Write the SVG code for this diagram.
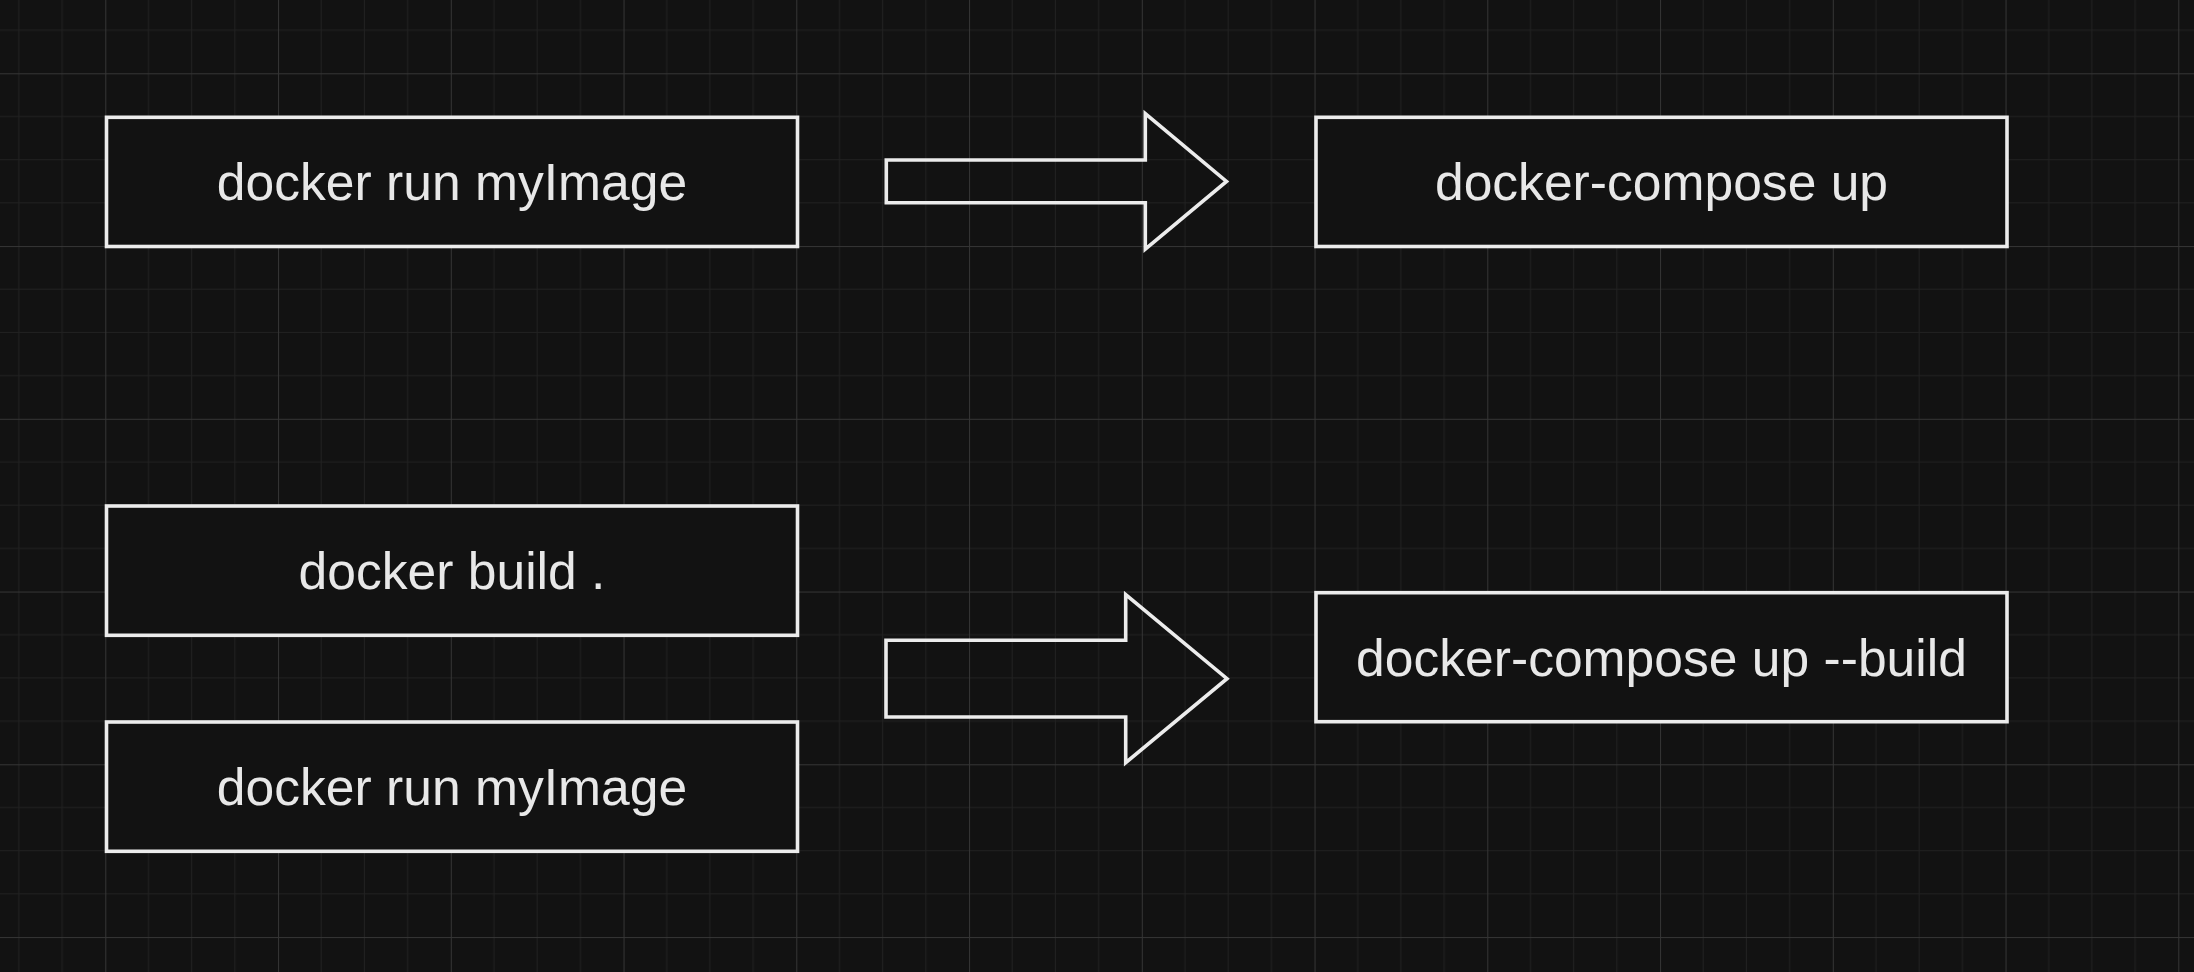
<svg xmlns="http://www.w3.org/2000/svg" width="2194" height="972" viewBox="0 0 2194 972">
  <defs>
    <pattern id="grid" patternUnits="userSpaceOnUse" x="105.3" y="73.3" width="172.75" height="172.75">
      <path d="M43.19 0V172.75M86.375 0V172.75M129.56 0V172.75M0 43.19H172.75M0 86.375H172.75M0 129.56H172.75" stroke="#212121" stroke-width="1" fill="none"/>
      <path d="M0.5 0V172.75M0 0.5H172.75" stroke="#353535" stroke-width="1" fill="none"/>
    </pattern>
  </defs>
  <style>
    .box { fill: #121212; stroke: #ececec; stroke-width: 3.6; }
    .arrow { fill: none; stroke: #ececec; stroke-width: 3.6; stroke-linejoin: miter; stroke-miterlimit: 10; }
    .label { font-family: "Liberation Sans", Arial, sans-serif; font-size: 51.6px; fill: #e8e8e8; text-anchor: middle; }
  </style>
  <rect x="0" y="0" width="2194" height="972" fill="#121212"/>
  <rect x="0" y="0" width="2194" height="972" fill="url(#grid)"/>

  <g id="node-run-top">
    <rect class="box" x="106.5" y="117.3" width="691" height="129.2"/>
    <text class="label" x="452" y="200">docker run myImage</text>
  </g>
  <g id="node-compose-up">
    <rect class="box" x="1316" y="117.3" width="691" height="129.2"/>
    <text class="label" x="1661.5" y="200">docker-compose up</text>
  </g>
  <g id="node-build">
    <rect class="box" x="106.5" y="506" width="691" height="129.3"/>
    <text class="label" x="452" y="589">docker build .</text>
  </g>
  <g id="node-run-bottom">
    <rect class="box" x="106.5" y="722" width="691" height="129.3"/>
    <text class="label" x="452" y="804.5">docker run myImage</text>
  </g>
  <g id="node-compose-build">
    <rect class="box" x="1316" y="592.7" width="691" height="129"/>
    <text class="label" x="1661.5" y="676">docker-compose up --build</text>
  </g>

  <g id="connectors">
    <polygon class="arrow" points="886.3,160 1145.3,160 1145.3,113.5 1226.5,181.4 1145.3,249.2 1145.3,202.7 886.3,202.7"/>
    <polygon class="arrow" points="886,640.3 1125.7,640.3 1125.7,594.7 1227,678.7 1125.7,762.7 1125.7,717 886,717"/>
  </g>
</svg>
